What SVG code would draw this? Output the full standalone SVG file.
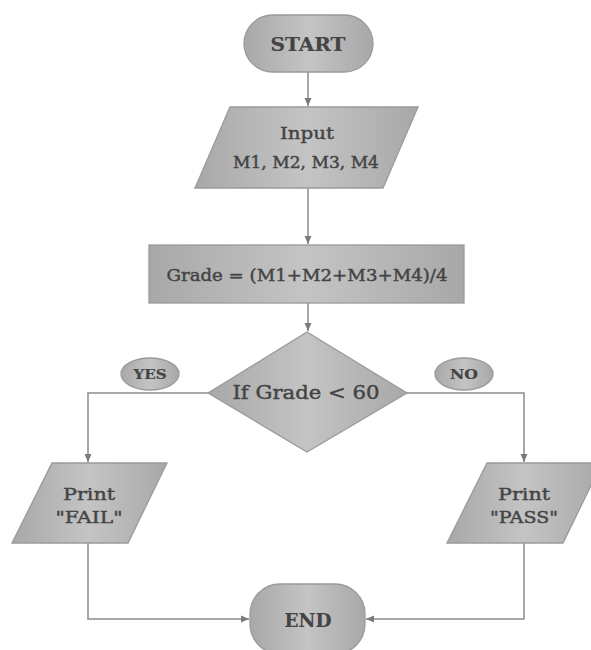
<svg xmlns="http://www.w3.org/2000/svg" width="591" height="650" viewBox="0 0 591 650">
<defs>
<linearGradient id="g" x1="0" y1="0" x2="1" y2="0">
<stop offset="0" stop-color="#a8a8a8"/>
<stop offset="0.5" stop-color="#c4c4c4"/>
<stop offset="1" stop-color="#a8a8a8"/>
</linearGradient>
<marker id="ah" markerWidth="10" markerHeight="10" refX="9" refY="5" orient="auto" markerUnits="userSpaceOnUse">
<path d="M1,1.5 L9,5 L1,8.5 Z" fill="#7a7a7a"/>
</marker>
<style>
.s{fill:url(#g);stroke:#9a9a9a;stroke-width:1.3}
.c{fill:none;stroke:#8c8c8c;stroke-width:1.5}
.t{font-family:"DejaVu Serif","Liberation Serif",serif;fill:#444444;stroke:#444444;stroke-width:0.45;text-anchor:middle}
.b{font-weight:bold;stroke-width:0.2}
</style>
</defs>
<rect width="591" height="650" fill="#ffffff"/>
<g id="connectors">
<path class="c" d="M308,72 V106" marker-end="url(#ah)"/>
<path class="c" d="M308,188 V244" marker-end="url(#ah)"/>
<path class="c" d="M308,303 V331" marker-end="url(#ah)"/>
<path class="c" d="M208,393 H88 V462" marker-end="url(#ah)"/>
<path class="c" d="M407,393 H524 V462" marker-end="url(#ah)"/>
<path class="c" d="M88,543 V619 H249" marker-end="url(#ah)"/>
<path class="c" d="M524,543 V619 H366" marker-end="url(#ah)"/>
</g>
<g id="start">
<rect class="s" x="244" y="15" width="129" height="57" rx="28.5"/>
<text class="t b" x="308" y="51" font-size="19" textLength="75" lengthAdjust="spacingAndGlyphs">START</text>
</g>
<g id="input">
<polygon class="s" points="230,107 418,107 383,188 195,188"/>
<text class="t" x="307" y="139" font-size="17" textLength="54" lengthAdjust="spacingAndGlyphs">Input</text>
<text class="t" x="306" y="168" font-size="17" textLength="146" lengthAdjust="spacingAndGlyphs">M1, M2, M3, M4</text>
</g>
<g id="grade">
<rect class="s" x="149" y="245" width="315" height="58"/>
<text class="t" x="307" y="281" font-size="17" textLength="281" lengthAdjust="spacingAndGlyphs">Grade = (M1+M2+M3+M4)/4</text>
</g>
<g id="decision">
<polygon class="s" points="307,332 407,393 307,452 208,393"/>
<text class="t" x="306" y="399" font-size="19" textLength="147" lengthAdjust="spacingAndGlyphs">If Grade  &lt; 60</text>
</g>
<g id="yes">
<ellipse class="s" cx="150" cy="374" rx="29" ry="16"/>
<text class="t b" x="150" y="379" font-size="13" textLength="33" lengthAdjust="spacingAndGlyphs">YES</text>
</g>
<g id="no">
<ellipse class="s" cx="464" cy="374" rx="29" ry="16"/>
<text class="t b" x="464" y="379" font-size="13" textLength="28" lengthAdjust="spacingAndGlyphs">NO</text>
</g>
<g id="fail">
<polygon class="s" points="52,463 167,463 128,543 12,543"/>
<text class="t" x="89" y="500" font-size="17" textLength="52" lengthAdjust="spacingAndGlyphs">Print</text>
<text class="t" x="89" y="523" font-size="17" textLength="67" lengthAdjust="spacingAndGlyphs">"FAIL"</text>
</g>
<g id="pass">
<polygon class="s" points="487,463 602,463 563,543 447,543"/>
<text class="t" x="524" y="500" font-size="17" textLength="52" lengthAdjust="spacingAndGlyphs">Print</text>
<text class="t" x="524" y="523" font-size="17" textLength="68" lengthAdjust="spacingAndGlyphs">"PASS"</text>
</g>
<g id="end">
<rect class="s" x="250" y="584" width="115" height="70" rx="30"/>
<text class="t b" x="308" y="627" font-size="19" textLength="47" lengthAdjust="spacingAndGlyphs">END</text>
</g>
</svg>
